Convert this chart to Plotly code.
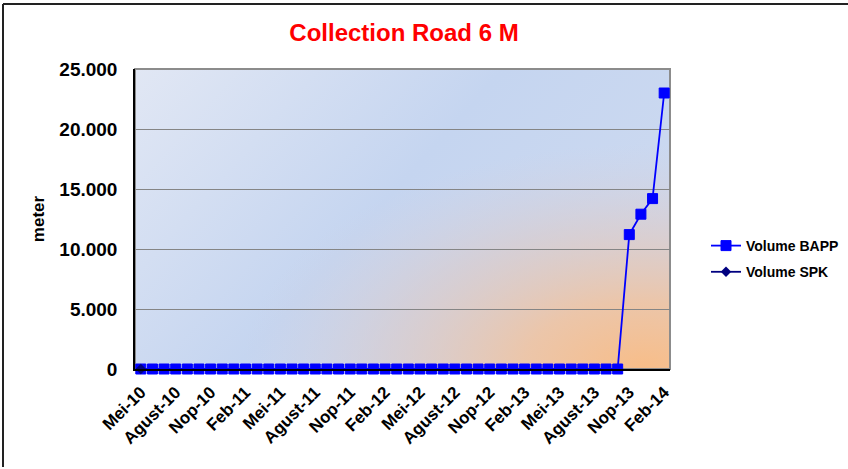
import base64
import plotly.graph_objects as go

months = ["Jan", "Feb", "Mar", "Apr", "Mei", "Jun", "Jul", "Agust", "Sep", "Okt", "Nop", "Des"]
categories = []
for yr in range(10, 15):
    for m_i, m in enumerate(months):
        if yr == 10 and m_i < 4:
            continue
        if yr == 14 and m_i > 1:
            continue
        categories.append(f"{m}-{yr}")

volume_bapp = [0] * 42 + [11200, 12900, 14200, 23000]
volume_spk = [0] + [None] * 45
tick_labels = categories[::3]

# plot background: blue linear gradient with an orange glow bottom-right
svg = """<svg xmlns='http://www.w3.org/2000/svg' width='535' height='300' viewBox='0 0 535 300' preserveAspectRatio='none'>
<defs>
<linearGradient id='lg' x1='0' y1='0' x2='1' y2='0.5'>
<stop offset='0' stop-color='#e1e7f4'/>
<stop offset='0.55' stop-color='#c5d5f0'/>
<stop offset='1' stop-color='#ccd9f0'/>
</linearGradient>
<radialGradient id='rg' cx='0.95' cy='1.0' r='0.75' fx='0.95' fy='1.0'>
<stop offset='0' stop-color='#f8bd88' stop-opacity='1'/>
<stop offset='0.3' stop-color='#f0c3a0' stop-opacity='0.88'/>
<stop offset='0.65' stop-color='#e0c8c0' stop-opacity='0.5'/>
<stop offset='1' stop-color='#d6cfdc' stop-opacity='0'/>
</radialGradient>
</defs>
<rect width='535' height='300' fill='url(#lg)'/>
<rect width='535' height='300' fill='url(#rg)'/>
</svg>"""
svg_uri = "data:image/svg+xml;base64," + base64.b64encode(svg.encode()).decode()

FONT = "Liberation Sans, Arial, sans-serif"

fig = go.Figure()
fig.add_trace(go.Scatter(
    x=categories, y=volume_bapp, name="Volume BAPP", mode="lines+markers",
    line=dict(color="#0000ff", width=1.8),
    marker=dict(symbol="square", size=10, color="#0000ff", line=dict(color="#0000ff", width=1)),
    cliponaxis=False, legendgroup="a",
))
fig.add_trace(go.Scatter(
    x=categories, y=volume_spk, name="Volume SPK", mode="lines+markers",
    line=dict(color="#000080", width=1.8),
    marker=dict(symbol="diamond", size=8, color="#000080"),
    cliponaxis=False, legendgroup="b",
))

fig.update_layout(
    width=848, height=469,
    margin=dict(l=135, r=178, t=69, b=100, autoexpand=False),
    paper_bgcolor="white", plot_bgcolor="rgba(0,0,0,0)",
    separators=",.",
    title=dict(text="<b>Collection Road 6 M</b>", x=404 / 848, xanchor="center",
               y=1 - 33 / 469, yanchor="middle",
               font=dict(family=FONT, size=24, color="#ff0000")),
    font=dict(family=FONT, color="black"),
    showlegend=True,
    legend=dict(x=(706 - 135) / 535, y=(369 - 230) / 300, xanchor="left", yanchor="top",
                font=dict(family=FONT, size=14, color="black", weight="bold"),
                bgcolor="rgba(0,0,0,0)", tracegroupgap=5, itemwidth=30),
    xaxis=dict(type="category", categoryorder="array", categoryarray=categories,
               tickmode="array", tickvals=tick_labels, ticktext=tick_labels,
               tickangle=-45, showgrid=False, showline=True, linecolor="black", linewidth=1.5,
               ticks="", ticklabelstandoff=5,
               tickfont=dict(family=FONT, size=17, color="black", weight="bold"),
               automargin=False, range=[-0.5, len(categories) - 0.5]),
    yaxis=dict(range=[0, 25000], dtick=5000, tickformat=",d", showgrid=True,
               gridcolor="#858585", gridwidth=1, showline=True, linecolor="black", linewidth=1.5,
               zeroline=False, ticks="", ticklabelstandoff=12,
               tickfont=dict(family=FONT, size=19, color="black", weight="bold"),
               title=dict(text="meter", standoff=10,
                          font=dict(family=FONT, size=17, color="black", weight="bold")),
               automargin=False),
    images=[dict(source=svg_uri, xref="paper", yref="paper", x=0, y=1, sizex=1, sizey=1,
                 xanchor="left", yanchor="top", sizing="stretch", layer="below")],
    shapes=[
        dict(type="rect", xref="paper", yref="paper", x0=0, x1=1, y0=0, y1=1,
             line=dict(color="#8c8c8c", width=2), layer="below"),
        dict(type="line", xref="paper", yref="paper",
             x0=(3 - 135) / 535, x1=(848 - 135) / 535, y0=(369 - 4) / 300, y1=(369 - 4) / 300,
             line=dict(color="#222222", width=2)),
        dict(type="line", xref="paper", yref="paper",
             x0=(3 - 135) / 535, x1=(3 - 135) / 535, y0=(369 - 4) / 300, y1=(369 - 467) / 300,
             line=dict(color="#222222", width=2)),
    ],
)

fig.write_html("out.html", config={"displayModeBar": False},
               post_script="document.body.style.margin='0';")
